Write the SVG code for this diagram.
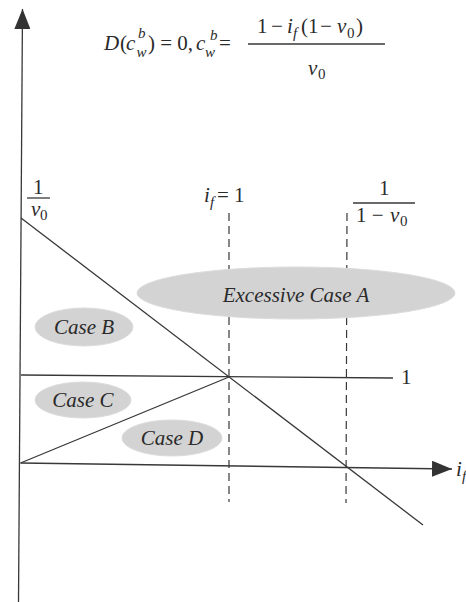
<svg xmlns="http://www.w3.org/2000/svg" width="466" height="602" viewBox="0 0 466 602">
<style>
.ln{stroke:#383838;stroke-width:1.3;fill:none}
.ds{stroke:#383838;stroke-width:1.2;fill:none;stroke-dasharray:8 5}
.t{font-family:"Liberation Serif","Times New Roman","DejaVu Serif",serif;font-size:21px;fill:#2a2a2a}
.i{font-style:italic}
.s{font-size:15px}
.el{fill:#d3d3d3;stroke:#dcdcdc;stroke-width:1}
</style>
<defs>
<marker id="ah" viewBox="0 0 20 16" refX="20" refY="8" markerWidth="20" markerHeight="16" markerUnits="userSpaceOnUse" orient="auto">
<path d="M0,0 L20,8 L0,16 Z" fill="#333"/>
</marker>
</defs>
<rect width="466" height="602" fill="#fff"/>

<g id="connectors">
<line id="y-axis" class="ln" x1="18.5" y1="602" x2="22.5" y2="9" marker-end="url(#ah)"/>
<line id="x-axis" class="ln" x1="20.5" y1="463" x2="452" y2="469" marker-end="url(#ah)"/>
<line id="one-line" class="ln" x1="21" y1="375" x2="393" y2="378"/>
<line id="diag-down" class="ln" x1="21" y1="218" x2="423" y2="525"/>
<line id="diag-up" class="ln" x1="20.5" y1="463" x2="229" y2="377"/>
<line id="dash-if1" class="ds" x1="229" y1="213" x2="229" y2="502"/>
<line id="dash-inv" class="ds" x1="347" y1="213" x2="346" y2="503"/>
</g>

<g id="formula">
<text class="t"><tspan x="104" y="50" class="i">D</tspan><tspan x="120" y="50">(</tspan><tspan x="126" y="50" class="i">c</tspan><tspan x="138" y="38" class="s i">b</tspan><tspan x="136.5" y="57" class="s i">w</tspan><tspan x="148" y="50">) = 0,</tspan><tspan x="196" y="50" class="i">c</tspan><tspan x="205" y="57" class="s i">w</tspan><tspan x="210" y="40" class="s i">b</tspan><tspan x="219" y="50">=</tspan></text>
<text class="t" y="33"><tspan x="257">1</tspan><tspan x="271">−</tspan><tspan x="287" class="i">i</tspan><tspan x="293" dy="5" class="s i">f</tspan><tspan x="301" dy="-5">(1</tspan><tspan x="320">−</tspan><tspan x="337" class="i">v</tspan><tspan x="347" dy="5" class="s">0</tspan><tspan x="356" dy="-5">)</tspan></text>
<line class="ln" x1="248" y1="44" x2="385" y2="44"/>
<text class="t" y="75"><tspan x="308" class="i">v</tspan><tspan x="318" dy="4" class="s">0</tspan></text>
</g>

<g id="label-inv-v0">
<text class="t"><tspan x="33" y="194">1</tspan><tspan x="31" y="216" class="i">v</tspan><tspan x="40" y="220" class="s">0</tspan></text>
<line class="ln" x1="27" y1="198" x2="50" y2="198"/>
</g>

<g id="label-if1">
<text class="t" y="202"><tspan x="204" class="i">i</tspan><tspan x="210" dy="5" class="s i">f</tspan><tspan x="217" dy="-5">= 1</tspan></text>
</g>

<g id="label-inv-1mv0">
<text class="t"><tspan x="379" y="195">1</tspan><tspan x="356" y="222">1 −</tspan><tspan x="390" y="222" class="i">v</tspan><tspan x="400" y="226" class="s">0</tspan></text>
<line class="ln" x1="353" y1="203" x2="415" y2="203"/>
</g>

<g id="label-one">
<text class="t" x="401" y="384">1</text>
</g>

<g id="label-if-axis">
<text class="t" y="476"><tspan x="456" class="i">i</tspan><tspan x="462" dy="5" class="s i">f</tspan></text>
</g>

<g id="case-a">
<ellipse class="el" cx="296" cy="293" rx="159" ry="26"/>
<text class="t i" x="296" y="302" text-anchor="middle">Excessive Case A</text>
</g>
<g id="case-b">
<ellipse class="el" cx="84" cy="327" rx="49" ry="19"/>
<text class="t i" x="84" y="334" text-anchor="middle">Case B</text>
</g>
<g id="case-c">
<ellipse class="el" cx="83" cy="400" rx="48" ry="18"/>
<text class="t i" x="83" y="407" text-anchor="middle">Case C</text>
</g>
<g id="case-d">
<ellipse class="el" cx="172" cy="438" rx="50" ry="18"/>
<text class="t i" x="172" y="445" text-anchor="middle">Case D</text>
</g>
</svg>
